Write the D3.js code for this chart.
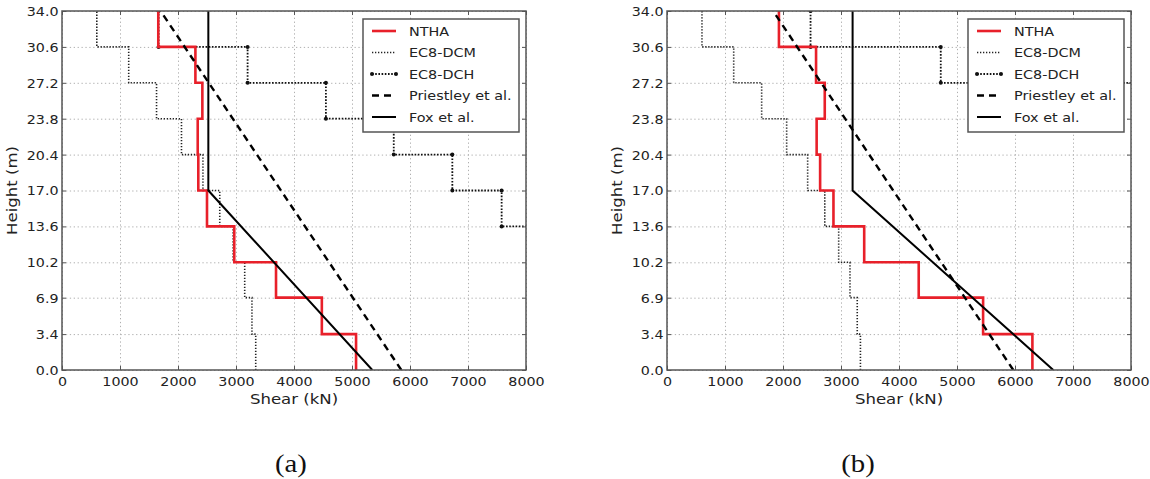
<!DOCTYPE html>
<html>
<head>
<meta charset="utf-8">
<script src="https://cdn.jsdelivr.net/npm/d3@7"></script>
<style>
  html, body { margin: 0; padding: 0; background: #fff; }
  svg { display: block; }
</style>
</head>
<body>
<svg id="chart" width="1150" height="479"></svg>
<script>
// ---------------- data ----------------
const levels = [0, 3.4, 6.85, 10.2, 13.6, 17.0, 20.4, 23.8, 27.2, 30.6, 34.0];
const yTickLabels = ["0.0", "3.4", "6.9", "10.2", "13.6", "17.0", "20.4", "23.8", "27.2", "30.6", "34.0"];
const xTicks = [0, 1000, 2000, 3000, 4000, 5000, 6000, 7000, 8000];
const seriesNames = ["NTHA", "EC8-DCM", "EC8-DCH", "Priestley et al.", "Fox et al."];

// story shears, bottom story first (kN)
const nthaA = [5070, 4480, 3690, 2970, 2500, 2350, 2340, 2420, 2300, 1660];
const dcmA  = [3340, 3275, 3150, 2950, 2720, 2430, 2060, 1630, 1150, 600];
const dchA  = [9290, 9100, 8760, 8200, 7580, 6730, 5720, 4550, 3200, 1665];
const priestleyA = [5850, 1700];          // at heights 0 and 34
const foxA = [5350, 2523, 2523];          // at heights 0, 17, 34

const nthaB = [6300, 5450, 4340, 3400, 2870, 2640, 2580, 2720, 2570, 1930];
const dcmB  = [3335, 3280, 3155, 2960, 2720, 2425, 2063, 1632, 1150, 603];
const dchB  = [13700, 13400, 12900, 12100, 11200, 10000, 9400, 8600, 4720, 2475];
const priestleyB = [5970, 1830];
const foxB = [6660, 3200, 3200];

const lineHeights = [0, 34];
const foxHeights = [0, 17, 34];
const captions = ["(a)", "(b)"];

// ---------------- layout ----------------
const SX = 1.15;            // horizontal glyph stretch seen in the picture
const yTop = 11, yBottom = 370;
const panels = [
  { x0: 62,  x1: 526,  cap: 291, data: { ntha: nthaA, dcm: dcmA, dch: dchA, pr: priestleyA, fox: foxA } },
  { x0: 667, x1: 1131, cap: 858, data: { ntha: nthaB, dcm: dcmB, dch: dchB, pr: priestleyB, fox: foxB } }
];
const RED = "#e8202a";
const SPINE = "#555";
const TXT = "#222";
const FONT = "'DejaVu Sans', sans-serif";

const svg = d3.select("#chart");

function stretchText(sel) {
  sel.each(function () {
    const t = d3.select(this);
    const x = +t.attr("x") || 0;
    const y = +t.attr("y") || 0;
    t.attr("x", 0).attr("y", 0).attr("transform", `translate(${x},${y}) scale(${SX},1)`);
  });
}

function stepPoints(vals) {
  const pts = [];
  vals.forEach((v, i) => { pts.push([v, levels[i]]); pts.push([v, levels[i + 1]]); });
  return pts;
}

panels.forEach((p, pi) => {
  const x = d3.scaleLinear().domain([0, 8000]).range([p.x0, p.x1]);
  const y = d3.scaleLinear().domain([0, 34]).range([yBottom, yTop]);
  const w = p.x1 - p.x0, h = yBottom - yTop;
  const g = svg.append("g");

  // grid
  const grid = g.append("g").attr("class", "grid");
  grid.append("g").attr("transform", `translate(0,${yBottom})`)
    .call(d3.axisBottom(x).tickValues(xTicks).tickSize(-h).tickFormat(""))
    .call(s => s.select(".domain").remove());
  grid.append("g").attr("transform", `translate(${p.x0},0)`)
    .call(d3.axisLeft(y).tickValues(levels).tickSize(-w).tickFormat(""))
    .call(s => s.select(".domain").remove());
  grid.selectAll("line").attr("stroke", "#b0b0b0").attr("stroke-width", 1).attr("stroke-dasharray", "1.3,2.6");

  // clip
  const cid = "clip" + pi;
  g.append("clipPath").attr("id", cid).append("rect")
    .attr("x", p.x0).attr("y", yTop).attr("width", w).attr("height", h);
  const plot = g.append("g").attr("clip-path", `url(#${cid})`);

  const line = d3.line().x(d => x(d[0])).y(d => y(d[1]));

  // EC8-DCM
  plot.append("path").datum(stepPoints(p.data.dcm)).attr("d", line)
    .attr("fill", "none").attr("stroke", "#222").attr("stroke-width", 1.6).attr("stroke-dasharray", "1.3,1.7");
  // EC8-DCH
  const dchPts = stepPoints(p.data.dch);
  plot.append("path").datum(dchPts).attr("d", line)
    .attr("fill", "none").attr("stroke", "#111").attr("stroke-width", 1.8).attr("stroke-dasharray", "1.6,1.6");
  plot.selectAll("circle.dch").data(dchPts).enter().append("circle").attr("class", "dch")
    .attr("cx", d => x(d[0])).attr("cy", d => y(d[1])).attr("r", 2).attr("fill", "#111");
  // NTHA
  plot.append("path").datum(stepPoints(p.data.ntha)).attr("d", line)
    .attr("fill", "none").attr("stroke", RED).attr("stroke-width", 2.6).attr("stroke-linejoin", "miter");
  // Priestley
  plot.append("path").datum(p.data.pr.map((v, i) => [v, lineHeights[i]])).attr("d", line)
    .attr("fill", "none").attr("stroke", "#000").attr("stroke-width", 2.4).attr("stroke-dasharray", "7,5");
  // Fox
  plot.append("path").datum(p.data.fox.map((v, i) => [v, foxHeights[i]])).attr("d", line)
    .attr("fill", "none").attr("stroke", "#000").attr("stroke-width", 2);

  // axes (inward ticks on all sides)
  const ax = g.append("g").attr("class", "axes");
  ax.append("g").attr("transform", `translate(0,${yBottom})`)
    .call(d3.axisBottom(x).tickValues(xTicks).tickSizeInner(-4).tickSizeOuter(0).tickPadding(7).tickFormat(d3.format("d")));
  ax.append("g").attr("transform", `translate(0,${yTop})`)
    .call(d3.axisTop(x).tickValues(xTicks).tickSizeInner(-4).tickSizeOuter(0).tickFormat(""));
  const yl = ax.append("g").attr("transform", `translate(${p.x0},0)`)
    .call(d3.axisLeft(y).tickValues(levels).tickSizeInner(-4).tickSizeOuter(0).tickPadding(3.5).tickFormat((d, i) => yTickLabels[i]));
  ax.append("g").attr("transform", `translate(${p.x1},0)`)
    .call(d3.axisRight(y).tickValues(levels).tickSizeInner(-4).tickSizeOuter(0).tickFormat(""));
  ax.selectAll(".domain").remove();
  ax.selectAll(".tick line").attr("stroke", SPINE).attr("stroke-width", 1);
  ax.selectAll("text").attr("fill", TXT).style("font-family", FONT).style("font-size", "12.4px");
  yl.selectAll("text").attr("dy", "0.36em");
  stretchText(ax.selectAll("text"));

  // frame
  g.append("rect").attr("x", p.x0).attr("y", yTop).attr("width", w).attr("height", h)
    .attr("fill", "none").attr("stroke", SPINE).attr("stroke-width", 1.5);

  // axis labels
  g.append("text").attr("transform", `translate(${(p.x0 + p.x1) / 2},404) scale(${SX},1)`)
    .attr("text-anchor", "middle").attr("fill", TXT).style("font-family", FONT).style("font-size", "14.4px")
    .text("Shear (kN)");
  g.append("text").attr("transform", `translate(${p.x0 - 45},${(yTop + yBottom) / 2}) rotate(-90) scale(${SX},1)`)
    .attr("text-anchor", "middle").attr("fill", TXT).style("font-family", FONT).style("font-size", "14.4px")
    .text("Height (m)");

  // legend
  const lx = p.x0 + 301, ly = 19;
  const lg = g.append("g").attr("transform", `translate(${lx},${ly})`);
  lg.append("rect").attr("x", 0).attr("y", 0).attr("width", 156).attr("height", 113)
    .attr("fill", "#fff").attr("stroke", SPINE).attr("stroke-width", 1.5);
  const rowY = i => 12 + i * 21.5;
  const styles = [
    { stroke: RED, w: 2.6, dash: null },
    { stroke: "#222", w: 1.6, dash: "1.3,1.7" },
    { stroke: "#111", w: 1.8, dash: "1.6,1.6", markers: true },
    { stroke: "#000", w: 2.4, dash: "7,5" },
    { stroke: "#000", w: 2, dash: null }
  ];
  seriesNames.forEach((name, i) => {
    const s = styles[i];
    const ln = lg.append("line").attr("x1", 9).attr("x2", 33).attr("y1", rowY(i)).attr("y2", rowY(i))
      .attr("stroke", s.stroke).attr("stroke-width", s.w);
    if (s.dash) ln.attr("stroke-dasharray", s.dash);
    if (s.markers) {
      [9, 33].forEach(cx => lg.append("circle").attr("cx", cx).attr("cy", rowY(i)).attr("r", 2).attr("fill", "#111"));
    }
    lg.append("text").attr("transform", `translate(46,${rowY(i)}) scale(${SX},1)`)
      .attr("dy", "0.36em").attr("fill", TXT).style("font-family", FONT).style("font-size", "12.5px")
      .text(name);
  });

  // caption
  svg.append("text").attr("transform", `translate(${p.cap},472) scale(${SX},1)`)
    .attr("text-anchor", "middle").attr("fill", "#111")
    .style("font-family", "'Liberation Serif', 'Times New Roman', serif").style("font-size", "25px")
    .text(captions[pi]);
});
</script>
</body>
</html>
